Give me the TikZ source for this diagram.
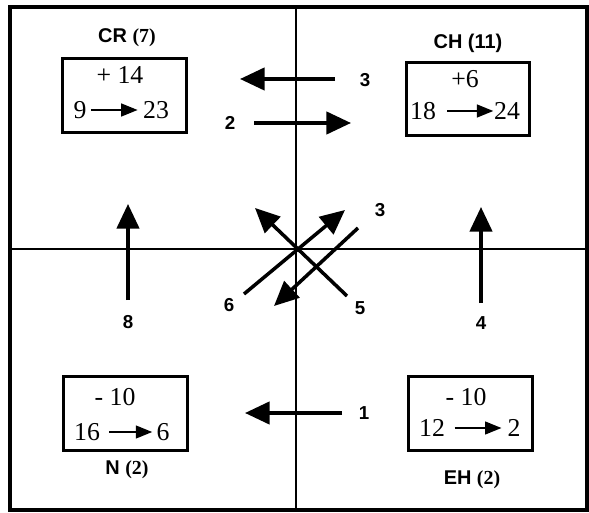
\documentclass[tikz,border=0pt]{standalone}
\usepackage{fontspec}
\setmainfont{Liberation Serif}
\setsansfont{Liberation Sans}
\usetikzlibrary{arrows.meta}

\begin{document}
\begin{tikzpicture}[x=0.03cm, y=-0.03cm,
    cell/.style={draw, line width=2.8pt, minimum width=3.7cm, minimum height=2.2cm},
    num/.style={font=\fontsize{22}{22}\selectfont, inner sep=0pt},
    lbl/.style={font=\fontsize{17}{17}\selectfont\sffamily\bfseries, inner sep=0pt},
    flbl/.style={font=\fontsize{16}{16}\selectfont\sffamily\bfseries, inner sep=0pt},
    arr/.style={-{Triangle[length=21pt,width=19pt]}, line width=3pt},
    small/.style={-{Triangle[length=14pt,width=11pt]}, line width=1.4pt}
]
\useasboundingbox (0,0) rectangle (589,513);

% quadrants
\draw[line width=2pt] (296,7) -- (296,510);
\draw[line width=2pt] (10,249) -- (587,249);
\draw[line width=3.6pt] (10,7) rectangle (587,510);

% groups
\node[cell] (cr) at (124.5,95.5) {};
\node[cell] (ch) at (468,99) {};
\node[cell] (n) at (125.5,413.5) {};
\node[cell] (eh) at (470.5,413.5) {};

\node[lbl] (crl) at (127,38) {CR {\rmfamily(7)}};
\node[lbl] (chl) at (468,43) {CH (11)};
\node[lbl] (nl) at (127,470) {N {\rmfamily(2)}};
\node[lbl] (ehl) at (472,480) {EH {\rmfamily(2)}};

% box contents
\node[num] (crd) at (120,75) {+ 14};
\node[num] (cra) at (80,110) {9};
\node[num] (crb) at (156,110) {23};
\draw[small, shorten <=3.5pt, shorten >=4.5pt] (cra) -- (crb);

\node[num] (chd) at (465,79) {+6};
\node[num] (cha) at (423,111) {18};
\node[num] (chb) at (507,111) {24};
\draw[small, shorten <=9.5pt, shorten >=0.5pt] (cha) -- (chb);

\node[num] (nd) at (115,397) {- 10};
\node[num] (na) at (87,432) {16};
\node[num] (nb) at (163,432) {6};
\draw[small, shorten <=8pt, shorten >=3.5pt] (na) -- (nb);

\node[num] (ehd) at (466,397) {- 10};
\node[num] (eha) at (432,428) {12};
\node[num] (ehb) at (514,428) {2};
\draw[small, shorten <=8pt, shorten >=5pt] (eha) -- (ehb);

% flows
\coordinate (f1a) at (342,413);
\coordinate (f1b) at (245,413);
\coordinate (f2a) at (254,123);
\coordinate (f2b) at (351,123);
\coordinate (f3a) at (335,79);
\coordinate (f3b) at (240,79);
\coordinate (f4a) at (481,303);
\coordinate (f4b) at (481,207);
\coordinate (f8a) at (128,300);
\coordinate (f8b) at (128,204);
\coordinate (f5a) at (347,296);
\coordinate (f5b) at (255,208);
\coordinate (f6a) at (244,294);
\coordinate (f6b) at (345,210);
\coordinate (f7a) at (358,228);
\coordinate (f7b) at (274,306);

\draw[arr] (f1a) -- (f1b);
\draw[arr] (f2a) -- (f2b);
\draw[arr] (f3a) -- (f3b);
\draw[arr] (f4a) -- (f4b);
\draw[arr] (f8a) -- (f8b);
\draw[arr] (f5a) -- (f5b);
\draw[arr] (f6a) -- (f6b);
\draw[arr] (f7a) -- (f7b);

\node[flbl] (l1) at (364,413) {1};
\node[flbl] (l2) at (230,123) {2};
\node[flbl] (l3) at (365,80) {3};
\node[flbl] (l4) at (481,323) {4};
\node[flbl] (l8) at (128,322) {8};
\node[flbl] (l5) at (360,308) {5};
\node[flbl] (l6) at (229,305) {6};
\node[flbl] (l7) at (380,210) {3};
\end{tikzpicture}
\end{document}
